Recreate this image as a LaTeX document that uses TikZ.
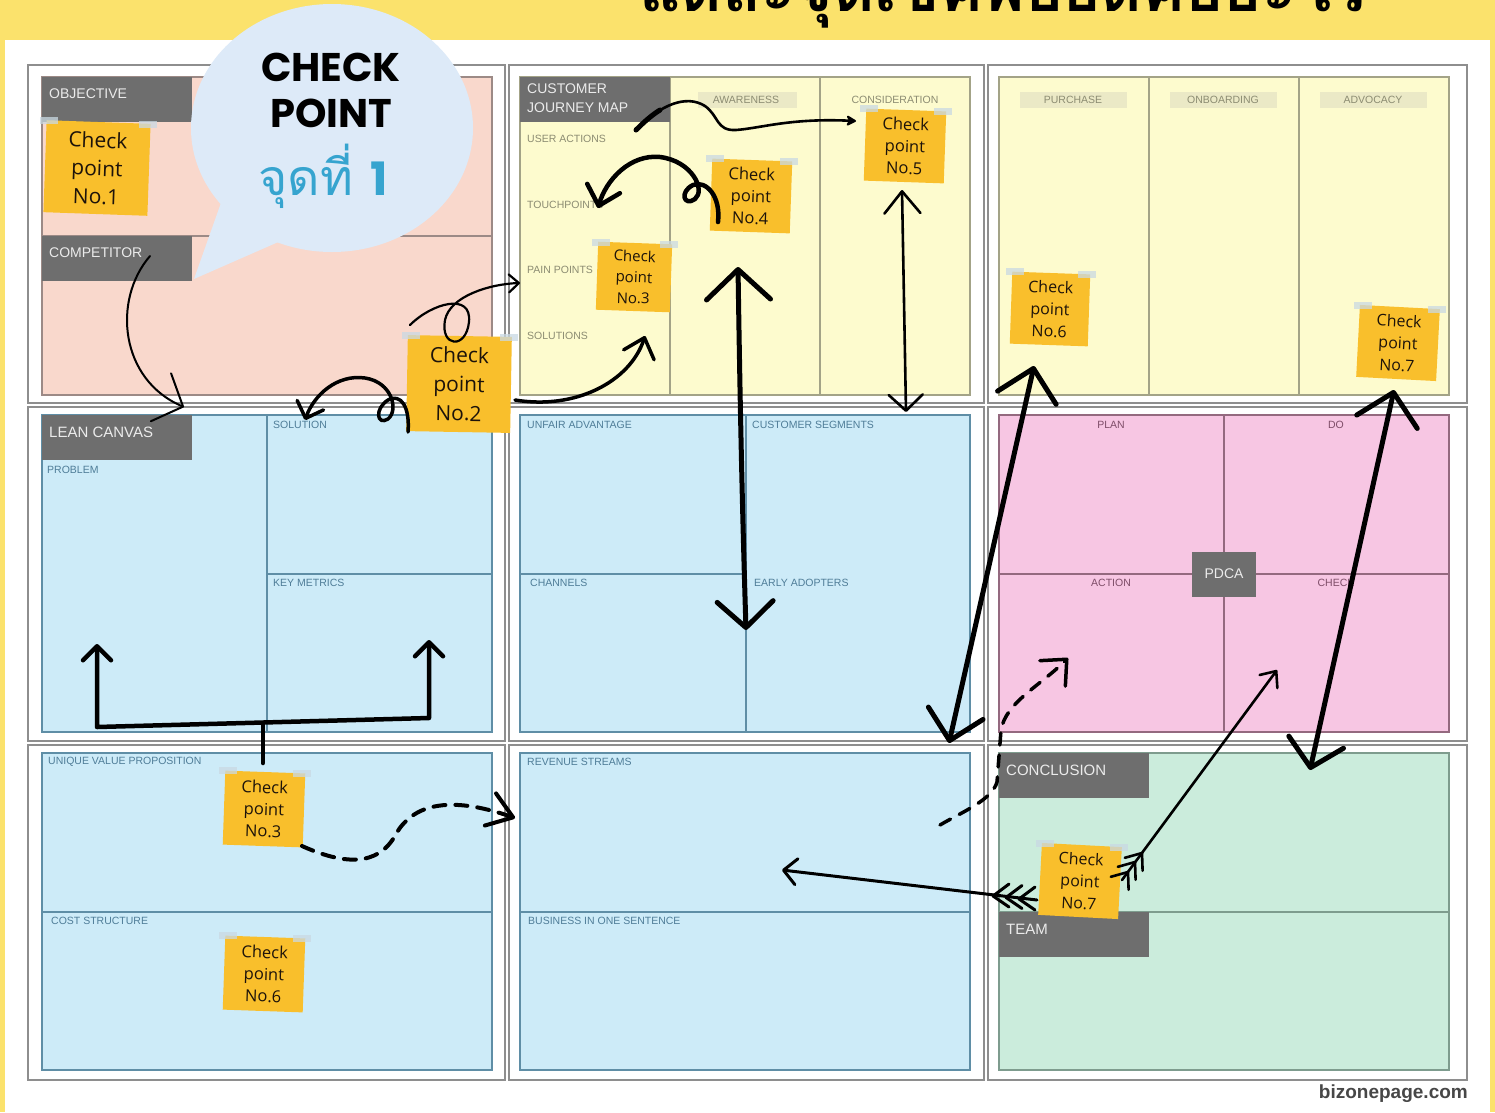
\documentclass[tikz,border=0pt]{standalone}
\usepackage{fontspec}
\setmainfont{Liberation Sans}
\newfontfamily\thaifont[Script=Thai]{Loma}
\newfontfamily\stickyfont{Open Sans}
\newfontfamily\bubblefont{Poppins}
\usetikzlibrary{arrows.meta,calc}
\definecolor{bannerY}{HTML}{FBE26C}
\definecolor{frameG}{HTML}{8E8E8E}
\definecolor{pinkP}{HTML}{F9D8CC}
\definecolor{pinkB}{HTML}{9C8A86}
\definecolor{yelP}{HTML}{FDFBCE}
\definecolor{yelB}{HTML}{A3A387}
\definecolor{yelT}{HTML}{8C8C72}
\definecolor{yelTab}{HTML}{EBE9C6}
\definecolor{blueP}{HTML}{CDEBF8}
\definecolor{blueB}{HTML}{5F8EA6}
\definecolor{blueT}{HTML}{4F7D98}
\definecolor{pdcaP}{HTML}{F7C6E3}
\definecolor{pdcaB}{HTML}{94697F}
\definecolor{pdcaT}{HTML}{7E4D68}
\definecolor{mintP}{HTML}{CBECDC}
\definecolor{mintB}{HTML}{7E9C8E}
\definecolor{tabG}{HTML}{6E6E6E}
\definecolor{stickyY}{HTML}{F9BF2C}
\definecolor{bubbleB}{HTML}{DDEAF8}
\definecolor{tealT}{HTML}{36A4CF}
\definecolor{tapeC}{HTML}{C9D9E3}
\begin{document}
\begin{tikzpicture}[x=1pt,y=-1pt,
  frame/.style={draw=frameG,line width=1.4pt},
  pinkpanel/.style={fill=pinkP,draw=pinkB,line width=1.2pt},
  yelpanel/.style={fill=yelP,draw=yelB,line width=1.2pt},
  bluepanel/.style={fill=blueP,draw=blueB,line width=1.2pt},
  pdcapanel/.style={fill=pdcaP,draw=pdcaB,line width=1.2pt},
  mintpanel/.style={fill=mintP,draw=mintB,line width=1.2pt},
  tab/.style={fill=tabG},
  tabtext/.style={anchor=west,inner sep=0pt,text=white!92!black,font=\fontsize{14}{16}\selectfont},
  bluelab/.style={anchor=west,inner sep=0pt,text=blueT,font=\fontsize{10.5}{12}\selectfont},
  yellab/.style={anchor=west,inner sep=0pt,text=yelT,font=\fontsize{10.5}{12}\selectfont},
  yelhead/.style={inner sep=0pt,text=yelT,font=\fontsize{10.5}{12}\selectfont},
  pdcalab/.style={inner sep=0pt,text=pdcaT,font=\fontsize{10.5}{12}\selectfont},
  sticky/.style={fill=stickyY,align=center,inner sep=3pt,text=black!85!brown,font=\stickyfont},
  hand/.style={draw=black,line cap=round,line join=round},
  dashhand/.style={hand,dash pattern=on 12pt off 10pt}
]
\useasboundingbox (0,0) rectangle (1495,1112);
\clip (0,0) rectangle (1495,1112);
% page
\fill[bannerY] (0,0) rectangle (1495,1112);
\fill[white] (5,40) rectangle (1490,1112);
\node[anchor=base,inner sep=0pt,font=\thaifont\bfseries\fontsize{64}{64}\selectfont] (title) at (1003,11) {แต่ละจุดเช็คพอยต์คืออะไร};
% outer frames
\foreach \xa/\xb in {28/505,509/984,988/1467}
  \foreach \ya/\yb in {65/403,407/741,745/1080}
    \draw[frame] (\xa,\ya) rectangle (\xb,\yb);
% ---------- top row
\draw[pinkpanel] (42,77) rectangle (492,395);
\draw[draw=pinkB,line width=1.2pt] (42,236) -- (492,236);
\draw[yelpanel] (520,77) rectangle (970,395);
\draw[draw=yelB,line width=1.2pt] (670,77) -- (670,395) (820,77) -- (820,395);
\draw[yelpanel] (999,77) rectangle (1449,395);
\draw[draw=yelB,line width=1.2pt] (1149,77) -- (1149,395) (1299,77) -- (1299,395);
% ---------- middle row
\draw[bluepanel] (42,415) rectangle (492,732);
\draw[draw=blueB,line width=1.2pt] (267,415) -- (267,732) (267,574) -- (492,574);
\draw[bluepanel] (520,415) rectangle (970,732);
\draw[draw=blueB,line width=1.2pt] (746,415) -- (746,732) (520,574) -- (746,574);
\draw[pdcapanel] (999,415) rectangle (1449,732);
\draw[draw=pdcaB,line width=1.2pt] (1224,415) -- (1224,732) (999,574) -- (1449,574);
% ---------- bottom row
\draw[bluepanel] (42,753) rectangle (492,1070);
\draw[draw=blueB,line width=1.2pt] (42,912) -- (492,912);
\draw[bluepanel] (520,753) rectangle (970,1070);
\draw[draw=blueB,line width=1.2pt] (520,912) -- (970,912);
\draw[mintpanel] (999,753) rectangle (1449,1070);
\draw[draw=mintB,line width=1.2pt] (999,912) -- (1449,912);
% ---------- grey tabs
\fill[tab] (42,77) rectangle (192,122);
\node[tabtext] (tObj) at (49,94) {OBJECTIVE};
\fill[tab] (42,236) rectangle (192,281);
\node[tabtext] (tComp) at (49,253) {COMPETITOR};
\fill[tab] (520,77) rectangle (670,122);
\node[tabtext] (tCjm1) at (527,89) {CUSTOMER};
\node[tabtext] (tCjm2) at (527,108) {JOURNEY MAP};
\fill[tab] (42,415) rectangle (192,460);
\node[tabtext,font=\fontsize{15}{16}\selectfont] (tLean) at (49,432) {LEAN CANVAS};
\fill[tab] (999,753) rectangle (1149,798);
\node[tabtext,font=\fontsize{15}{16}\selectfont] (tConc) at (1006,770) {CONCLUSION};
\fill[tab] (999,912) rectangle (1149,957);
\node[tabtext,font=\fontsize{15}{16}\selectfont] (tTeam) at (1006,929) {TEAM};
\fill[tab] (1192,552) rectangle (1256,597);
\node[tabtext,anchor=center] (tPdca) at (1224,574) {PDCA};
% ---------- journey labels
\node[yellab] (lUA) at (527,139) {USER ACTIONS};
\node[yellab] (lTP) at (527,205) {TOUCHPOINTS};
\node[yellab] (lPP) at (527,270) {PAIN POINTS};
\node[yellab] (lSO) at (527,336) {SOLUTIONS};
\fill[yelTab] (698,92) rectangle (797,108);
\node[yelhead] (hAw) at (746,100) {AWARENESS};
\node[yelhead] (hCo) at (895,100) {CONSIDERATION};
\fill[yelTab] (1020,92) rectangle (1127,108);
\node[yelhead] (hPu) at (1073,100) {PURCHASE};
\fill[yelTab] (1170,92) rectangle (1277,108);
\node[yelhead] (hOn) at (1223,100) {ONBOARDING};
\fill[yelTab] (1320,92) rectangle (1427,108);
\node[yelhead] (hAd) at (1373,100) {ADVOCACY};
% ---------- lean canvas labels
\node[bluelab] (lProb) at (47,470) {PROBLEM};
\node[bluelab] (lSol) at (273,425) {SOLUTION};
\node[bluelab] (lKey) at (273,583) {KEY METRICS};
\node[bluelab] (lUnf) at (527,425) {UNFAIR ADVANTAGE};
\node[bluelab] (lCus) at (752,425) {CUSTOMER SEGMENTS};
\node[bluelab] (lCha) at (530,583) {CHANNELS};
\node[bluelab] (lEar) at (754,583) {EARLY ADOPTERS};
\node[bluelab] (lUvp) at (48,762) {UNIQUE VALUE PROPOSITION};
\node[bluelab] (lCost) at (51,921) {COST STRUCTURE};
\node[bluelab] (lRev) at (527,762) {REVENUE STREAMS};
\node[bluelab] (lBus) at (528,921) {BUSINESS IN ONE SENTENCE};
\node[pdcalab] (lPlan) at (1111,425) {PLAN};
\node[pdcalab] (lDo) at (1336,425) {DO};
\node[pdcalab] (lAct) at (1111,583) {ACTION};
\node[pdcalab] (lChk) at (1336,583) {CHECK};
% ---------- speech bubble
\fill[bubbleB] (332,128) ellipse [x radius=141pt, y radius=124pt];
\fill[bubbleB] (222,200) -- (194,279) -- (292,236) -- cycle;
\node[inner sep=0pt,font=\bubblefont\bfseries\fontsize{40}{40}\selectfont] (bCheck) at (331,67) {CHECK};
\node[inner sep=0pt,font=\bubblefont\bfseries\fontsize{40}{40}\selectfont] (bPoint) at (331,113) {POINT};
\node[inner sep=0pt,text=tealT] (bThai) at (323,176) {{\thaifont\fontsize{50}{50}\selectfont จุดที่\ }{\bubblefont\bfseries\fontsize{46}{46}\selectfont 1}};
% ---------- sticky notes
\node[sticky,minimum width=104pt,minimum height=92pt,rotate=-2,font=\stickyfont\fontsize{21}{28}\selectfont] (s1) at (97,168) {Check\\point\\No.1};
\node[sticky,minimum width=104pt,minimum height=96pt,rotate=-1,font=\stickyfont\fontsize{21}{29}\selectfont] (s2) at (459,384) {Check\\point\\No.2};
\node[sticky,minimum width=74pt,minimum height=68pt,rotate=-2,font=\stickyfont\fontsize{15}{21}\selectfont] (s3) at (634,277) {Check\\point\\No.3};
\node[sticky,minimum width=80pt,minimum height=72pt,rotate=-2,font=\stickyfont\fontsize{16.5}{22}\selectfont] (s4) at (751,196) {Check\\point\\No.4};
\node[sticky,minimum width=80pt,minimum height=72pt,rotate=-2,font=\stickyfont\fontsize{16.5}{22}\selectfont] (s5) at (905,146) {Check\\point\\No.5};
\node[sticky,minimum width=78pt,minimum height=72pt,rotate=-2,font=\stickyfont\fontsize{16}{22}\selectfont] (s6) at (1050,309) {Check\\point\\No.6};
\node[sticky,minimum width=80pt,minimum height=72pt,rotate=-3,font=\stickyfont\fontsize{16}{22}\selectfont] (s7) at (1398,343) {Check\\point\\No.7};
\node[sticky,minimum width=80pt,minimum height=74pt,rotate=-2,font=\stickyfont\fontsize{16.5}{22}\selectfont] (s8) at (264,809) {Check\\point\\No.3};
\node[sticky,minimum width=80pt,minimum height=74pt,rotate=-2,font=\stickyfont\fontsize{16.5}{22}\selectfont] (s9) at (264,974) {Check\\point\\No.6};
\node[sticky,minimum width=80pt,minimum height=72pt,rotate=-3,font=\stickyfont\fontsize{16}{22}\selectfont] (s10) at (1080,881) {Check\\point\\No.7};
% tape bits
\foreach \s in {s1,s2,s3,s4,s5,s6,s7,s8,s9,s10}{
  \fill[tapeC,opacity=.75] ($(\s.north west)+(-6,-3)$) rectangle ++(18,7);
  \fill[tapeC,opacity=.75] ($(\s.north east)+(-12,-3)$) rectangle ++(18,7);
}
% ---------- hand drawn arrows
% A: competitor -> lean canvas
\coordinate (aS) at (150,256); \coordinate (aE) at (184,407);
\draw[hand,line width=2pt,-{Straight Barb[round,length=24pt,width=52pt]}] (aS) .. controls (112,300) and (120,380) .. (aE);
% B: No.2 loop -> pain points
\coordinate (bS) at (410,325); \coordinate (bE) at (520,283);
\draw[hand,line width=2.2pt,-{Straight Barb[round,length=10pt,width=18pt]}] (bS) .. controls (432,303) and (472,292) .. (469,322) .. controls (466,350) and (440,347) .. (445,320) .. controls (450,296) and (490,284) .. (bE);
% C: No.2 -> solution
\coordinate (cS) at (408,432); \coordinate (cE) at (305,420);
\draw[hand,line width=3.5pt,-{Straight Barb[round,length=14pt,width=28pt]}] (cS) .. controls (410,407) and (401,393) .. (388,400) .. controls (374,409) and (377,426) .. (388,419) .. controls (399,410) and (392,382) .. (365,378) .. controls (337,374) and (314,395) .. (cE);
% D: No.2 -> solutions row
\coordinate (dS) at (515,400); \coordinate (dE) at (645,336);
\draw[hand,line width=3.5pt,-{Straight Barb[round,length=18pt,width=32pt]}] (dS) .. controls (575,410) and (630,382) .. (dE);
% E: No.4 loop -> touchpoints
\coordinate (eS) at (718,222); \coordinate (eE) at (598,208);
\draw[hand,line width=4.5pt,-{Straight Barb[round,length=18pt,width=34pt]}] (eS) .. controls (721,196) and (706,180) .. (693,185) .. controls (679,192) and (684,207) .. (695,199) .. controls (706,190) and (692,161) .. (660,157) .. controls (630,154) and (606,180) .. (eE);
% F: wavy user actions -> consideration
\coordinate (fS) at (636,130); \coordinate (fE) at (856,121);
\draw[hand,line width=2.6pt,-{Stealth[round,length=12pt,width=13pt]}] (fS) .. controls (660,105) and (686,94) .. (705,106) .. controls (719,116) and (716,131) .. (736,130) .. controls (762,128) and (790,118) .. (fE);
\draw[hand,line width=5pt] (fS) .. controls (645,121) and (652,115) .. (660,110);
% G: big vertical double arrow
\coordinate (gT) at (738,267); \coordinate (gB) at (746,630);
\draw[hand,line width=5pt,{Straight Barb[round,length=30pt,width=64pt]}-{Straight Barb[round,length=26pt,width=56pt]}] (gT) .. controls (740,400) and (742,500) .. (gB);
% H: consideration <-> customer segments
\coordinate (hT) at (902,190); \coordinate (hB) at (906,412);
\draw[hand,line width=2.6pt,{Straight Barb[round,length=22pt,width=36pt]}-{Straight Barb[round,length=16pt,width=34pt]}] (hT) -- (hB);
% I: purchase <-> conclusion
\coordinate (iT) at (1034,366); \coordinate (iB) at (949,743);
\draw[hand,line width=5pt,{Straight Barb[round,length=30pt,width=60pt]}-{Straight Barb[round,length=28pt,width=56pt]}] (iT) -- (iB);
% J: advocacy <-> conclusion
\coordinate (jT) at (1394,390); \coordinate (jB) at (1310,770);
\draw[hand,line width=5pt,{Straight Barb[round,length=30pt,width=62pt]}-{Straight Barb[round,length=26pt,width=56pt]}] (jT) -- (jB);
% K: dashed revenue -> action
\coordinate (kS) at (940,825); \coordinate (kE) at (1068,658);
\draw[dashhand,line width=3.5pt,-{Straight Barb[round,length=20pt,width=36pt]}] (kS) .. controls (962,812) and (992,800) .. (997,782) -- (1001,730) .. controls (1006,702) and (1040,686) .. (kE);
% L: dashed UVP No.3 -> revenue streams
\coordinate (lS) at (302,846); \coordinate (lE) at (515,818);
\draw[dashhand,line width=4pt,-{Straight Barb[round,length=24pt,width=34pt]}] (lS) .. controls (342,864) and (378,868) .. (396,834) .. controls (412,806) and (446,794) .. (lE);
% M: No.7 -> revenue (left)
\coordinate (mS) at (1037,900); \coordinate (mE) at (782,870);
\draw[hand,line width=3pt,-{Straight Barb[round,length=13pt,width=26pt]}] (mS) -- (mE);
\foreach \tx/\ty in {993/896,1006/897.5,1019/899}{
  \draw[hand,line width=3pt] (\tx+16,\ty-12) -- (\tx,\ty) -- (\tx+16,\ty+11);
}
% N: No.7 -> check
\coordinate (nS) at (1122,880); \coordinate (nE) at (1277,670);
\draw[hand,line width=2.6pt,-{Straight Barb[round,length=13pt,width=22pt]}] (nS) -- (nE);
\foreach \tx/\ty in {1128/872,1135/862,1142/853}{
  \draw[hand,line width=2.6pt] (\tx+0.6,\ty+17.8) -- (\tx,\ty) -- (\tx-17.2,\ty+4.8);
}
% O: UVP bracket -> problem & key metrics
\coordinate (oS) at (263,763); \coordinate (oM) at (263,723);
\coordinate (oL) at (97,727); \coordinate (oR) at (429,718);
\coordinate (oLt) at (97,644); \coordinate (oRt) at (429,640);
\draw[hand,line width=4.5pt] (oS) -- (oM);
\draw[hand,line width=4.5pt,{Straight Barb[round,length=14pt,width=28pt]}-{Straight Barb[round,length=14pt,width=28pt]}] (oLt) -- (oL) -- (oR) -- (oRt);
% footer
\node[anchor=east,inner sep=0pt,text=black!72,font=\bfseries\fontsize{19}{22}\selectfont] (foot) at (1468,1094) {bizonepage.com};
\end{tikzpicture}
\end{document}
